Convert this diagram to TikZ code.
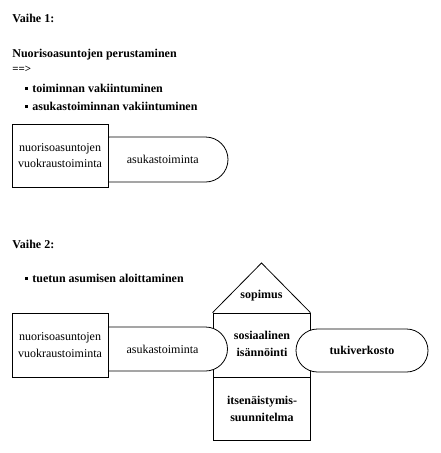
\documentclass[tikz,border=0pt]{standalone}
\usepackage{fontspec}
\setmainfont{Liberation Serif}
\usetikzlibrary{shapes.misc, positioning}

\newcommand{\nelio}{\rule[2.5pt]{3pt}{3pt}\hspace{4pt}}

\begin{document}
\begin{tikzpicture}[x=1pt,y=-1pt,line width=0.8pt,
  laatikko/.style={draw, fill=white, inner sep=0pt, align=center,
    font=\fontsize{12}{16.5}\selectfont},
  kapseli/.style={draw, fill=white, rounded rectangle, inner sep=0pt},
  teksti/.style={inner sep=0pt, align=center, font=\fontsize{12}{16.5}\selectfont},
  lihava/.style={teksti, font=\fontsize{12}{17}\selectfont\bfseries},
  otsikko/.style={anchor=base west, inner sep=0pt, font=\fontsize{12}{14}\selectfont\bfseries}]
\useasboundingbox (0,0) rectangle (441,453);

% vaihe 1
\node[otsikko] (vaihe1) at (12,22.5) {Vaihe 1:};
\node[otsikko] (perust) at (12,57) {Nuorisoasuntojen perustaminen};
\node[otsikko, font=\fontsize{11}{12}\selectfont\bfseries] (nuoli) at (12,72) {==>};
\node[otsikko] (tavoite1) at (25,92) {\nelio toiminnan vakiintuminen};
\node[otsikko] (tavoite2) at (25,110) {\nelio asukastoiminnan vakiintuminen};

\node[kapseli, minimum width=140.5pt, minimum height=45pt] (asukas1) at (157.75,159.5) {};
\node[teksti] (asukas1t) at ([xshift=5pt]asukas1.center) {asukastoiminta};
\node[laatikko, minimum width=96pt, minimum height=63pt] (vuokra1) at (60,155.5)
  {nuorisoasuntojen\\vuokraustoiminta};

% vaihe 2
\node[otsikko] (vaihe2) at (12,248) {Vaihe 2:};
\node[otsikko] (tavoite3) at (25,282) {\nelio tuetun asumisen aloittaminen};

\node[laatikko, minimum width=97pt, minimum height=64pt] (isannointi) at (261.5,345) {};
\node[laatikko, minimum width=97pt, minimum height=63pt] (suunnitelma) at (261.5,408.5) {};
\coordinate (katto) at (261.5,263);
\draw[fill=white] (isannointi.north west) -- (katto) -- (isannointi.north east);
\node[lihava] (sopimus) at (261.5,296) {sopimus};

\node[kapseli, minimum width=140pt, minimum height=44pt] (asukas2) at (157.5,349) {};
\node[teksti] (asukas2t) at ([xshift=5pt]asukas2.center) {asukastoiminta};
\node[kapseli, minimum width=132pt, minimum height=43pt] (tuki) at (362,350.5) {};
\node[lihava] (tukit) at (tuki.center) {tukiverkosto};
\node[laatikko, minimum width=96pt, minimum height=64pt] (vuokra2) at (60,345)
  {nuorisoasuntojen\\vuokraustoiminta};

\node[lihava] (isannointit) at (262,344) {sosiaalinen\\isännöinti};
\node[lihava] (suunnitelmat) at (262,409) {itsenäistymis-\\suunnitelma};
\end{tikzpicture}
\end{document}
